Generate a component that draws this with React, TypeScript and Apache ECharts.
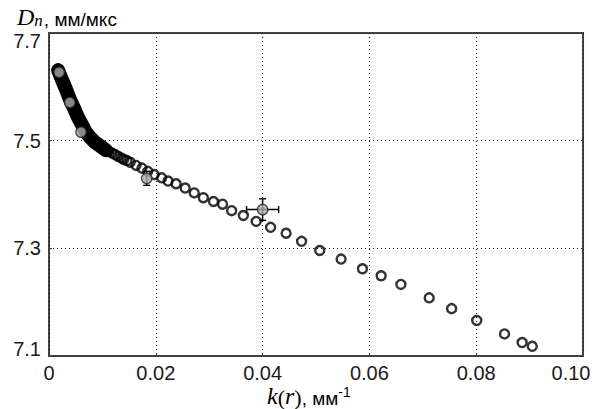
import React, { useEffect, useRef } from "react";
import * as echarts from "echarts";

// Dense band of overlapping open circles
const bandK = [0.0017, 0.0024, 0.0032, 0.0039, 0.0047, 0.0054, 0.0062, 0.0069, 0.0077, 0.0086, 0.0096, 0.0107];
const bandD = [7.631, 7.614, 7.595, 7.577, 7.56, 7.544, 7.529, 7.516, 7.506, 7.497, 7.49, 7.482];

// Individual open circles
const openK = [
  0.0112, 0.0118, 0.0124, 0.0129, 0.0135, 0.014, 0.0146, 0.0152, 0.0163, 0.0174, 0.0185, 0.0197,
  0.0211, 0.0223, 0.0238, 0.0255, 0.0272, 0.0289, 0.0308, 0.0325, 0.0342, 0.0364,
  0.0388, 0.0415, 0.0444, 0.0473, 0.0507, 0.0547, 0.0587, 0.0622, 0.0659, 0.0712,
  0.0754, 0.0801, 0.0853, 0.0886, 0.0905,
];
const openD = [
  7.48, 7.477, 7.474, 7.471, 7.468, 7.465, 7.463, 7.46, 7.454, 7.449, 7.443, 7.437,
  7.431, 7.425, 7.42, 7.412, 7.403, 7.394, 7.387, 7.382, 7.37, 7.361,
  7.35, 7.339, 7.328, 7.313, 7.296, 7.28, 7.262, 7.249, 7.233, 7.208,
  7.188, 7.166, 7.141, 7.125, 7.118,
];

// Measured points (grey) with error bars
const measK = [0.0019, 0.0039, 0.006, 0.0183, 0.04];
const measD = [7.627, 7.571, 7.516, 7.43, 7.372];
const errK = [0, 0, 0, 0, 0.003];
const errD = [0, 0, 0, 0.013, 0.02];

const xTicks = [0, 0.02, 0.04, 0.06, 0.08, 0.1];
const yTicks = [7.1, 7.3, 7.5, 7.7];

const SANS = "'Liberation Sans', Arial, sans-serif";
const SERIF = "'Liberation Serif', 'Times New Roman', serif";
const TXT = "#1a1a1a";

export default function App() {
  const ref = useRef<HTMLDivElement>(null);
  useEffect(() => {
    document.body.style.margin = "0";
    const chart = echarts.init(ref.current!, null, { renderer: "svg" });
    const xMin = xTicks[0];
    const xMax = xTicks[xTicks.length - 1];
    const yMin = yTicks[0];
    const yMax = yTicks[yTicks.length - 1];

    const errData = measK
      .map((k, i) => [k, measD[i], errK[i], errD[i]])
      .filter((d) => d[2] > 0 || d[3] > 0);

    chart.setOption({
      animation: false,
      grid: {
        left: 49,
        right: 18,
        top: 33,
        bottom: 53,
        containLabel: false,
        outerBoundsMode: "none",
        show: true,
        borderColor: "#444",
        borderWidth: 2,
        backgroundColor: "#fff",
      },
      xAxis: {
        type: "value",
        min: xMin,
        max: xMax,
        interval: 0.02,
        axisLine: { show: false },
        axisTick: { show: true, inside: true, length: 3, lineStyle: { color: "#444" } },
        splitLine: { show: true, lineStyle: { color: "#222", type: [1, 3], width: 1.2 } },
        axisLabel: {
          margin: 7,
          fontFamily: SANS,
          fontSize: 20,
          lineHeight: 20,
          color: TXT,
          formatter: (v: number) => {
            if (Math.abs(v) < 1e-9) return "0";
            if (Math.abs(v - xMax) < 1e-9) return "{last|" + v.toFixed(2) + "}";
            return v.toFixed(2);
          },
          rich: {
            last: { fontFamily: SANS, fontSize: 20, lineHeight: 20, color: TXT, padding: [0, 24, 0, 0] },
          },
        },
      },
      yAxis: {
        type: "value",
        min: yMin,
        max: yMax,
        interval: 0.2,
        axisLine: { show: false },
        axisTick: { show: true, inside: true, length: 3, lineStyle: { color: "#444" } },
        splitLine: { show: true, lineStyle: { color: "#222", type: [1, 3], width: 1.2 } },
        axisLabel: {
          margin: 8,
          fontFamily: SANS,
          fontSize: 20,
          color: TXT,
          formatter: (v: number) => {
            const s = v.toFixed(1);
            if (Math.abs(v - yMax) < 1e-6) return "{top|" + s + "}";
            if (Math.abs(v - yMin) < 1e-6) return "{bot|" + s + "}";
            return s;
          },
          rich: {
            top: { fontFamily: SANS, fontSize: 20, color: TXT, padding: [16, 0, 0, 0] },
            bot: { fontFamily: SANS, fontSize: 20, color: TXT, padding: [0, 0, 15, 0] },
          },
        },
      },
      graphic: [
        {
          type: "text",
          left: 17,
          top: 5,
          style: {
            text: "{d|D}{n|n}{u|, мм/мкс}",
            rich: {
              d: { fontFamily: SERIF, fontStyle: "italic", fontSize: 24, color: TXT, lineHeight: 27, verticalAlign: "bottom" },
              n: { fontFamily: SERIF, fontStyle: "italic", fontSize: 17, color: TXT, lineHeight: 27, verticalAlign: "bottom" },
              u: { fontFamily: SANS, fontSize: 19, color: TXT, lineHeight: 27, verticalAlign: "bottom", padding: [0, 0, 0, 1] },
            },
          },
        },
        {
          type: "text",
          left: 267,
          top: 384,
          style: {
            text: "{k|k}{p|(}{k|r}{p|)}{u|, мм}{s|-1}",
            rich: {
              k: { fontFamily: SERIF, fontStyle: "italic", fontSize: 24, color: TXT, lineHeight: 23, verticalAlign: "bottom" },
              p: { fontFamily: SERIF, fontSize: 22, color: TXT, lineHeight: 23, verticalAlign: "bottom" },
              u: { fontFamily: SANS, fontSize: 19, color: TXT, lineHeight: 23, verticalAlign: "bottom" },
              s: { fontFamily: SANS, fontSize: 14, color: TXT, lineHeight: 14, verticalAlign: "top" },
            },
          },
        },
      ],
      series: [
        {
          type: "line",
          silent: true,
          data: bandK.map((k, i) => [k, bandD[i]]),
          showSymbol: false,
          lineStyle: { color: "#000", width: 14, cap: "round", join: "round" },
          z: 2,
        },
        {
          type: "scatter",
          silent: true,
          data: openK.map((k, i) => [k, openD[i]]),
          symbol: "circle",
          symbolSize: 9,
          itemStyle: { color: "rgba(0,0,0,0)", borderColor: "#000", borderWidth: 2.4 },
          z: 3,
        },
        {
          type: "custom",
          silent: true,
          data: errData,
          encode: { x: 0, y: 1 },
          z: 4,
          renderItem: (params: any, api: any) => {
            const x = api.value(0);
            const y = api.value(1);
            const ex = api.value(2);
            const ey = api.value(3);
            const c = api.coord([x, y]);
            const st = { stroke: "#000", lineWidth: 1.4 };
            const cap = 3.5;
            const children: any[] = [];
            if (ey > 0) {
              const t = api.coord([x, y + ey]);
              const b = api.coord([x, y - ey]);
              children.push({ type: "line", shape: { x1: c[0], y1: t[1], x2: c[0], y2: b[1] }, style: st });
              children.push({ type: "line", shape: { x1: c[0] - cap, y1: t[1], x2: c[0] + cap, y2: t[1] }, style: st });
              children.push({ type: "line", shape: { x1: c[0] - cap, y1: b[1], x2: c[0] + cap, y2: b[1] }, style: st });
            }
            if (ex > 0) {
              const l = api.coord([x - ex, y]);
              const r = api.coord([x + ex, y]);
              children.push({ type: "line", shape: { x1: l[0], y1: c[1], x2: r[0], y2: c[1] }, style: st });
              children.push({ type: "line", shape: { x1: l[0], y1: c[1] - cap, x2: l[0], y2: c[1] + cap }, style: st });
              children.push({ type: "line", shape: { x1: r[0], y1: c[1] - cap, x2: r[0], y2: c[1] + cap }, style: st });
            }
            return { type: "group", children };
          },
        },
        {
          type: "scatter",
          silent: true,
          data: measK.map((k, i) => [k, measD[i]]),
          symbol: "circle",
          symbolSize: 10.5,
          itemStyle: { color: "#a9a9a9", borderColor: "#222", borderWidth: 1.3 },
          z: 5,
        },
      ],
    });
    return () => chart.dispose();
  }, []);
  return <div ref={ref} style={{ width: 601, height: 409 }} />;
}
